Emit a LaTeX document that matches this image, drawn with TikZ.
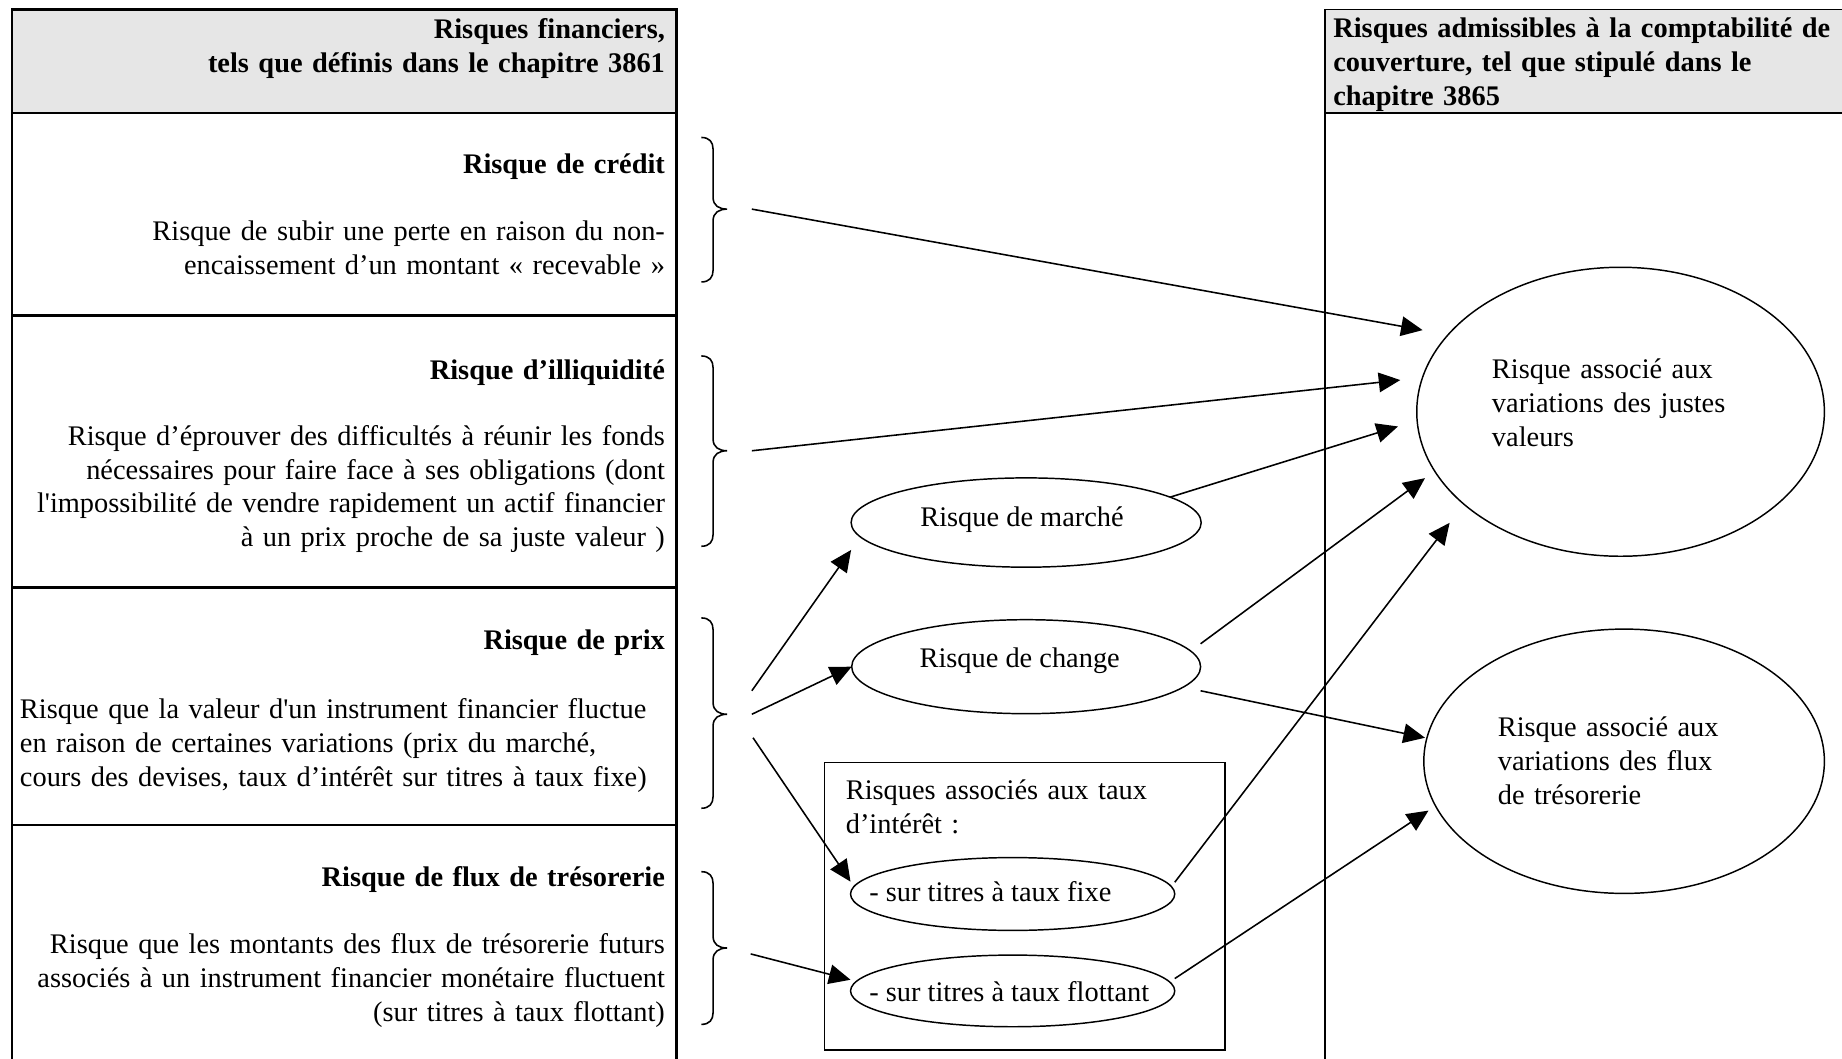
\documentclass[tikz,border=0pt]{standalone}
\usepackage{fontspec}
\setmainfont{Liberation Serif}[Ligatures={TeX,NoCommon}]
\usetikzlibrary{arrows.meta,shapes.geometric}
\definecolor{hdrgray}{RGB}{230,230,230}
\newcommand{\mybrace}[3]{%
  \draw[bracepath] (597,#1) .. controls (604,#1) and (607,#1+4) .. (607,#1+10)
    -- (607,#2-10) .. controls (607,#2-3) and (612,#2) .. (619,#2)
    .. controls (612,#2) and (607,#2+3) .. (607,#2+10)
    -- (607,#3-10) .. controls (607,#3-4) and (604,#3) .. (597,#3);}
\begin{document}
\begin{tikzpicture}[x=0.6pt,y=-0.6pt,
  every node/.style={inner sep=0pt, outer sep=0pt, font=\fontsize{14.5pt}{17.25pt}\selectfont},
  tabline/.style={line width=1.2pt},
  rtabline/.style={line width=0.9pt},
  rtxt/.style={anchor=base east, text width=400pt, align=right},
  ltxt/.style={anchor=base west, text width=400pt, align=left},
  bold/.style={font=\fontsize{14.5pt}{17.25pt}\selectfont\bfseries},
  risk/.style={draw, ellipse, line width=0.75pt},
  arr/.style={line width=0.8pt, -{Triangle[length=11pt,width=10pt]}},
  bracepath/.style={line width=0.8pt},
]
\useasboundingbox (0,0) rectangle (1568,901);
\clip (0,0) rectangle (1568,901);

% left table
\fill[hdrgray] (10,8) rectangle (576,96);
\draw[tabline] (10,910) -- (10,8) -- (576,8) -- (576,910);
\draw[tabline] (10,96) -- (576,96);
\draw[tabline] (10,268.5) -- (576,268.5);
\draw[tabline] (10,500) -- (576,500);
\draw[tabline] (10,702) -- (576,702);

% right table
\fill[hdrgray] (1128,8) rectangle (1575,96);
\draw[rtabline] (1128,910) -- (1128,8) -- (1575,8);
\draw[rtabline] (1128,96) -- (1575,96);

% headers
\node[rtxt, bold] (h1) at (566,33) {Risques financiers,\\tels que définis dans le chapitre 3861};
\node[ltxt, bold] (h2) at (1135,32) {Risques admissibles à la comptabilité de\\couverture, tel que stipulé dans le\\chapitre 3865};

% rows
\node[rtxt, bold] (credit) at (566,148) {Risque de crédit};
\node[rtxt] (creditd) at (566,205) {Risque de subir une perte en raison du non-\\encaissement d’un montant « recevable »};
\node[rtxt, bold] (illiq) at (566,323) {Risque d’illiquidité};
\node[rtxt] (illiqd) at (566,379) {Risque d’éprouver des difficultés à réunir les fonds\\nécessaires pour faire face à ses obligations (dont\\l\textquotesingle impossibilité de vendre rapidement un actif financier\\à un prix proche de sa juste valeur )};
\node[rtxt, bold] (prix) at (566,553) {Risque de prix};
\node[ltxt] (prixd) at (17,612) {Risque que la valeur d\textquotesingle un instrument financier fluctue\\en raison de certaines variations (prix du marché,\\cours des devises, taux d’intérêt sur titres à taux fixe)};
\node[rtxt, bold] (flux) at (566,755) {Risque de flux de trésorerie};
\node[rtxt] (fluxd) at (566,812) {Risque que les montants des flux de trésorerie futurs\\associés à un instrument financier monétaire fluctuent\\(sur titres à taux flottant)};

% braces
\mybrace{117}{178}{240}
\mybrace{303}{383.7}{465}
\mybrace{526}{608}{688}
\mybrace{742}{807}{872}

% middle ellipses
\node[risk, minimum width=178.8pt, minimum height=45.6pt] (marche) at (873.5,444.8) {};
\node[anchor=base] (marchet) at (870,448) {Risque de marché};
\node[risk, minimum width=178.2pt, minimum height=48pt] (change) at (873.5,567.5) {};
\node[anchor=base] (changet) at (868,568) {Risque de change};

\node[draw, line width=0.8pt, minimum width=204.6pt, minimum height=147pt] (tauxbox) at (872.5,771.5) {};
\node[ltxt] (tauxt) at (720,680.5) {Risques associés aux taux\\d’intérêt :};
\node[risk, minimum width=165.6pt, minimum height=37.2pt] (fixe) at (862,761) {};
\node[anchor=base west] (fixet) at (740,767) {- sur titres à taux fixe};
\node[risk, minimum width=165.6pt, minimum height=36.6pt] (flott) at (862,843.5) {};
\node[anchor=base west] (flottt) at (740,852.5) {- sur titres à taux flottant};

% right ellipses
\node[risk, minimum width=208.2pt, minimum height=147.6pt] (juste) at (1379.5,350.5) {};
\node[ltxt] (justet) at (1270,322.5) {Risque associé aux\\variations des justes\\valeurs};
\node[risk, minimum width=204.6pt, minimum height=135pt] (fluxv) at (1382.5,648) {};
\node[ltxt] (fluxvt) at (1275,627) {Risque associé aux\\variations des flux\\de trésorerie};

% arrow free ends
\coordinate (s1) at (640,178);
\coordinate (s2) at (640,383.7);
\coordinate (s3a) at (640,588);
\coordinate (s3b) at (640,608);
\coordinate (s3c) at (641,628);
\coordinate (s4) at (639,812);
\coordinate (e1) at (1211,281);
\coordinate (e2) at (1192,323.5);
\coordinate (e3) at (1190,363);
\coordinate (e4) at (1213,407);
\coordinate (e5) at (1234,445);
\coordinate (e6) at (1213,628);
\coordinate (e7) at (1216,690);

% arrows
\draw[arr] (s1) -- (e1);
\draw[arr] (s2) -- (e2);
\draw[arr] (marche.10) -- (e3);
\draw[arr] ([yshift=11.7pt]change.east) -- (e4);
\draw[arr] ([yshift=6pt]fixe.east) -- (e5);
\draw[arr] ([yshift=-12.3pt]change.east) -- (e6);
\draw[arr] ([yshift=6.3pt]flott.east) -- (e7);
\draw[arr] (s3a) -- ([yshift=-14pt]marche.west);
\draw[arr] (s3b) -- (change.west);
\draw[arr] (s3c) -- ([yshift=6.3pt]fixe.west);
\draw[arr] (s4) -- ([yshift=5.7pt]flott.west);
\end{tikzpicture}
\end{document}
